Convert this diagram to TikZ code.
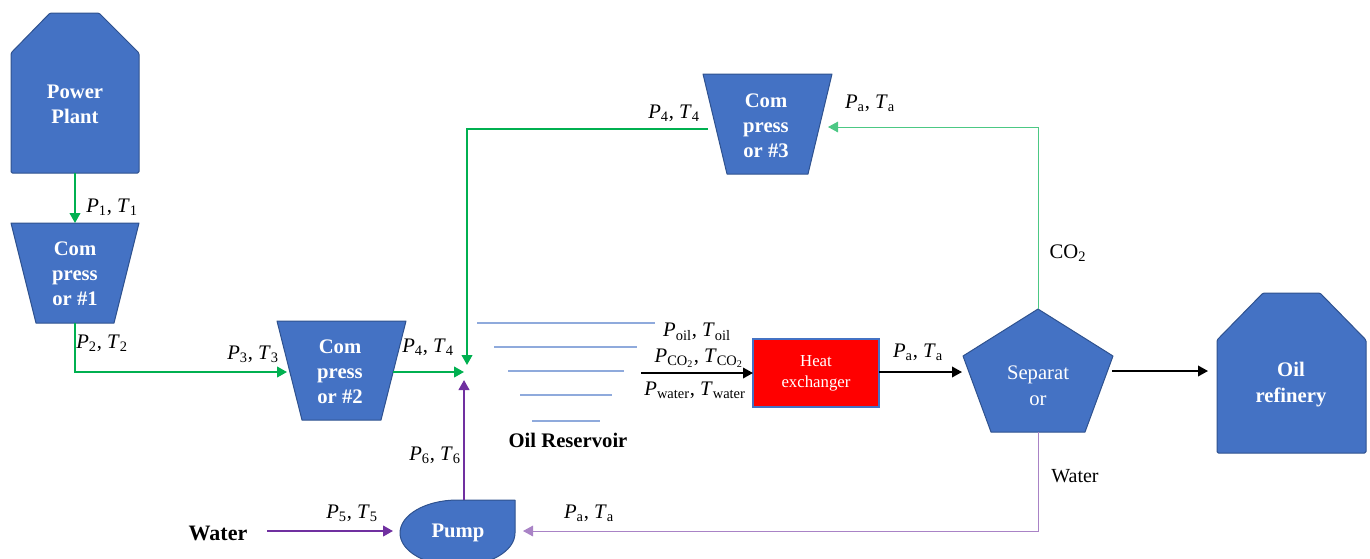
\documentclass[tikz,border=0pt]{standalone}
\usepackage{fontspec}
\setmainfont{Liberation Serif}
\usetikzlibrary{arrows.meta}
\definecolor{shapeblue}{HTML}{4472C4}
\definecolor{shapeedge}{HTML}{2F528F}
\definecolor{flowgreen}{HTML}{00B050}
\definecolor{flowpurple}{HTML}{7030A0}
\definecolor{reslines}{HTML}{8FAADC}
\definecolor{hxred}{HTML}{FF0000}
\newcommand{\PTlab}[2]{\textit{P}\textsubscript{#1}, \textit{T}\textsubscript{#2}}
\begin{document}
\begin{tikzpicture}[x=0.75pt,y=-0.75pt,
  unit/.style={fill=shapeblue,draw=shapeedge,line width=0.75pt,line join=round},
  unittext/.style={text=white,font=\fontsize{15.5}{18.6}\selectfont\bfseries,align=center,inner sep=0pt},
  lbl/.style={font=\fontsize{15.5}{18.6}\selectfont,inner sep=0pt},
  tip/.style={-{Triangle[length=7.5pt,width=8pt]}},
  gflow/.style={draw=flowgreen,line width=1.5pt,tip},
  gthin/.style={draw=flowgreen!70,line width=0.75pt,tip},
  pflow/.style={draw=flowpurple,line width=1.5pt,tip},
  pthin/.style={draw=flowpurple!60,line width=0.75pt,tip},
  kflow/.style={draw=black,line width=1.1pt,tip},
  resline/.style={draw=reslines,line width=0.9pt}
]
\useasboundingbox (0,0) rectangle (1370,558);
\clip (0,0) rectangle (1370,558);

% ---------- shapes ----------
% Power plant
\path[unit,rounded corners=1pt] (11,173) -- (11,53) -- (50,13) -- (99,13) -- (139,53) -- (139,173) -- cycle;
\node[unittext] (pp) at (75,104) {Power\\Plant};
% Compressor 1
\path[unit] (11,223) -- (139,223) -- (114,323) -- (36,323) -- cycle;
\node[unittext] (c1) at (75,274) {Com\\press\\or \#1};
% Compressor 2
\path[unit] (277,321) -- (406,321) -- (381,420) -- (302,420) -- cycle;
\node[unittext] (c2) at (340,372) {Com\\press\\or \#2};
% Compressor 3
\path[unit] (703,74) -- (832,74) -- (808,174) -- (727,174) -- cycle;
\node[unittext] (c3) at (766,126) {Com\\press\\or \#3};
% Pump
\path[unit] (515,500) -- (515,533) arc[start angle=0,end angle=270,x radius=57.5,y radius=33] -- cycle;
\node[unittext] (pump) at (458,533) {Pump};
% Heat exchanger
\path[fill=hxred,draw=shapeblue,line width=0.9pt] (753,339) rectangle (879,407);
\node[text=white,font=\fontsize{12.6}{15.8}\selectfont,align=center,inner sep=0pt] (hx) at (816,373) {Heat\\exchanger};
% Separator
\path[unit] (1038,309) -- (1113,356) -- (1085,432) -- (991,432) -- (963,356) -- cycle;
\node[unittext,font=\fontsize{15.5}{19.5}\selectfont] (sep) at (1038,386) {Separat\\or};
% Oil refinery
\path[unit,rounded corners=1pt] (1217,453) -- (1217,340) -- (1263,293) -- (1320,293) -- (1366,340) -- (1366,453) -- cycle;
\node[unittext,font=\fontsize{15.5}{19.5}\selectfont\bfseries] (ref) at (1291,385) {Oil\\refinery};

% Oil reservoir
\draw[resline] (477,323) -- (655,323);
\draw[resline] (494,347) -- (637,347);
\draw[resline] (508,371) -- (624,371);
\draw[resline] (520,395) -- (612,395);
\draw[resline] (532,421) -- (600,421);
\node[lbl,font=\fontsize{15.5}{18.6}\selectfont\bfseries] (res) at (568,440) {Oil Reservoir};

% ---------- connection points ----------
\coordinate (ppS) at (75,173);
\coordinate (c1N) at (75,223);
\coordinate (c1S) at (75,323);
\coordinate (c2W) at (287,372);
\coordinate (c2E) at (393,372);
\coordinate (jW) at (464,372);
\coordinate (jN) at (467,365);
\coordinate (jS) at (464,380);
\coordinate (c3W) at (708,129);
\coordinate (c3E) at (828,127);
\coordinate (pumpN) at (464,500);
\coordinate (pumpE) at (523,531);
\coordinate (pumpW) at (393,531);
\coordinate (waterE) at (267,531);
\coordinate (resE) at (641,373);
\coordinate (hxW) at (753,373);
\coordinate (hxE) at (879,372);
\coordinate (sepW) at (962,372);
\coordinate (sepN) at (1038,309);
\coordinate (sepS) at (1038,432);
\coordinate (sepE) at (1112,371);
\coordinate (refW) at (1208,371);

% ---------- connectors ----------
\draw[gflow] (ppS) -- (c1N);
\draw[gflow] (c1S) |- (c2W);
\draw[gflow] (c2E) -- (jW);
\draw[gflow] (c3W) -| (jN);
\draw[gthin] (sepN) |- (c3E);
\draw[pflow] (pumpN) -- (jS);
\draw[pflow] (waterE) -- (pumpW);
\draw[pthin] (sepS) |- (pumpE);
\draw[kflow] (resE) -- (hxW);
\draw[kflow] (hxE) -- (sepW);
\draw[kflow] (sepE) -- (refW);

% ---------- labels ----------
\node[lbl] (l1) at (112,207) {\PTlab{1}{1}};
\node[lbl] (l2) at (102,343) {\PTlab{2}{2}};
\node[lbl] (l3) at (253,354) {\PTlab{3}{3}};
\node[lbl] (l4a) at (428,347) {\PTlab{4}{4}};
\node[lbl] (l4b) at (674,113) {\PTlab{4}{4}};
\node[lbl] (lac3) at (870,103) {\PTlab{a}{a}};
\node[lbl] (lco2) at (1068,253) {CO\textsubscript{2}};
\node[lbl] (loil) at (697,332) {\PTlab{oil}{oil}};
\node[lbl] (lco2b) at (699,358) {\PTlab{CO\textsubscript{2}}{CO\textsubscript{2}}};
\node[lbl] (lwat) at (695,390) {\PTlab{water}{water}};
\node[lbl] (lahx) at (918,352) {\PTlab{a}{a}};
\node[lbl] (l6) at (435,455) {\PTlab{6}{6}};
\node[lbl] (l5) at (352,513) {\PTlab{5}{5}};
\node[lbl] (lap) at (589,513) {\PTlab{a}{a}};
\node[lbl,font=\fontsize{16.5}{19}\selectfont\bfseries] (wat) at (218,533) {Water};
\node[lbl,font=\fontsize{15}{18}\selectfont] (watsep) at (1075,476) {Water};
\end{tikzpicture}
\end{document}
